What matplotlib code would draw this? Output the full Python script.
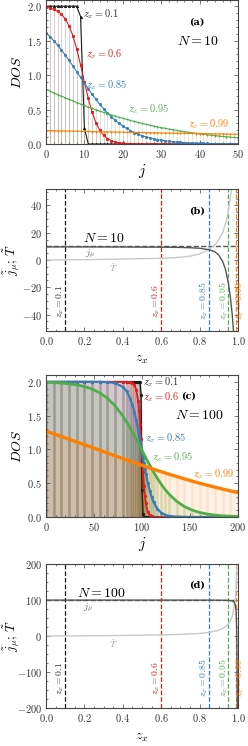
import numpy as np
import matplotlib
matplotlib.use('Agg')
import matplotlib.pyplot as plt
from matplotlib.ticker import MultipleLocator, FormatStrFormatter

plt.rcParams['mathtext.fontset'] = 'cm'
plt.rcParams['font.family'] = 'serif'
plt.rcParams['font.serif'] = ['DejaVu Serif']

zx = [0.1, 0.6, 0.85, 0.95, 0.99]
colors = ['#1a1a1a', '#e41a1c', '#377eb8', '#4daf4a', '#ff7f00']
markers = ['^', 's', 'o', '+', '+']

# ---- panel (a): N = 10, DOS at every j = 0..50
j_a = np.arange(51)
dos_a_01 = [2.0] * 9 + [1.85, 0.23] + [0.0] * 40
dos_a_06 = [1.984, 1.973, 1.956, 1.929, 1.885, 1.818, 1.716, 1.572, 1.380, 1.149,
            0.900, 0.664, 0.463, 0.309, 0.200, 0.126, 0.078, 0.048, 0.030, 0.018,
            0.011, 0.007, 0.004, 0.003, 0.002, 0.001] + [0.0] * 25
dos_a_085 = [1.615, 1.560, 1.500, 1.436, 1.366, 1.291, 1.213, 1.133, 1.050, 0.967,
             0.884, 0.803, 0.724, 0.649, 0.578, 0.512, 0.451, 0.396, 0.345, 0.300,
             0.260, 0.225, 0.194, 0.166, 0.143, 0.122, 0.104, 0.089, 0.076, 0.065,
             0.055, 0.047, 0.040, 0.034, 0.029, 0.024, 0.021, 0.017, 0.015, 0.012,
             0.011, 0.009, 0.008, 0.006, 0.005, 0.005, 0.004, 0.003, 0.003, 0.002,
             0.002]
dos_a_095 = [0.793, 0.768, 0.743, 0.718, 0.694, 0.671, 0.647, 0.625, 0.602, 0.580,
             0.559, 0.538, 0.517, 0.498, 0.478, 0.459, 0.441, 0.423, 0.406, 0.389,
             0.373, 0.357, 0.342, 0.327, 0.313, 0.299, 0.286, 0.274, 0.261, 0.250,
             0.238, 0.228, 0.217, 0.207, 0.198, 0.188, 0.180, 0.171, 0.163, 0.155,
             0.148, 0.141, 0.134, 0.128, 0.122, 0.116, 0.110, 0.105, 0.100, 0.095,
             0.090]
dos_a_099 = [0.195, 0.194, 0.193, 0.191, 0.190, 0.189, 0.188, 0.187, 0.185, 0.184,
             0.183, 0.182, 0.181, 0.180, 0.178, 0.177, 0.176, 0.175, 0.174, 0.173,
             0.172, 0.171, 0.170, 0.169, 0.168, 0.167, 0.166, 0.164, 0.163, 0.162,
             0.161, 0.160, 0.159, 0.158, 0.157, 0.156, 0.155, 0.154, 0.153, 0.152,
             0.152, 0.151, 0.150, 0.149, 0.148, 0.147, 0.146, 0.145, 0.144, 0.143,
             0.142]
dos_a = [dos_a_01, dos_a_06, dos_a_085, dos_a_095, dos_a_099]

# ---- panel (b): N = 10
z_b_mu = [0.0, 0.1, 0.2, 0.3, 0.4, 0.5, 0.6, 0.7, 0.75, 0.8, 0.85, 0.88, 0.9,
          0.92, 0.935, 0.95, 0.96, 0.97, 0.977]
jmu_b = [9.6, 9.6, 9.6, 9.55, 9.5, 9.45, 9.4, 9.2, 9.0, 8.6, 7.5, 6.0, 3.5,
         -1.0, -7.0, -17.0, -27.0, -40.0, -53.0]
z_b_T = [0.0, 0.1, 0.2, 0.3, 0.4, 0.5, 0.6, 0.7, 0.75, 0.8, 0.85, 0.88, 0.9,
         0.92, 0.94, 0.95, 0.96, 0.967]
T_b = [0.0, 0.1, 0.25, 0.45, 0.7, 1.0, 1.2, 2.0, 2.8, 4.5, 8.0, 11.0, 15.0,
       20.0, 29.0, 36.0, 46.0, 53.0]

# ---- panel (c): N = 100
j_c = [0, 8, 16, 24, 32, 40, 48, 56, 64, 72, 80, 84, 88, 90, 92, 94, 96, 97, 98,
       99, 100, 101, 102, 103, 104, 106, 108, 110, 112, 116, 120, 124, 128, 136,
       144, 152, 160, 168, 176, 184, 192, 200]
dos_c_01 = [2.0] * 19 + [1.8, 0.4, 0.05] + [0.0] * 20
dos_c_06 = [2.0] * 11 + [1.999, 1.994, 1.984, 1.956, 1.885, 1.716, 1.572, 1.380,
            1.149, 0.900, 0.664, 0.463, 0.309, 0.200, 0.078, 0.030, 0.011, 0.004] + [0.0] * 13
dos_c_085 = [2.0, 2.0, 2.0, 2.0, 2.0, 2.0, 2.0, 1.999, 1.995, 1.980, 1.925, 1.860,
             1.744, 1.660, 1.555, 1.429, 1.284, 1.206, 1.124, 1.042, 0.958, 0.876,
             0.795, 0.716, 0.642, 0.506, 0.390, 0.296, 0.221, 0.120, 0.064, 0.033,
             0.017, 0.005, 0.001, 0.0, 0.0, 0.0, 0.0, 0.0, 0.0, 0.0]
dos_c_095 = [1.992, 1.988, 1.981, 1.970, 1.954, 1.929, 1.892, 1.836, 1.756, 1.643,
             1.494, 1.406, 1.309, 1.258, 1.206, 1.151, 1.097, 1.069, 1.042, 1.014,
             0.986, 0.958, 0.931, 0.903, 0.876, 0.821, 0.768, 0.716, 0.666, 0.571,
             0.485, 0.408, 0.341, 0.233, 0.156, 0.103, 0.067, 0.044, 0.028, 0.018,
             0.012, 0.008]
dos_c_099 = [1.269, 1.230, 1.191, 1.151, 1.110, 1.070, 1.028, 0.987, 0.946, 0.905,
             0.864, 0.844, 0.824, 0.814, 0.804, 0.794, 0.784, 0.779, 0.775, 0.770,
             0.765, 0.760, 0.755, 0.750, 0.745, 0.736, 0.726, 0.717, 0.707, 0.688,
             0.670, 0.652, 0.634, 0.599, 0.565, 0.532, 0.500, 0.470, 0.441, 0.413,
             0.387, 0.362]
dos_c = [dos_c_01, dos_c_06, dos_c_085, dos_c_095, dos_c_099]

# ---- panel (d): N = 100
z_d_mu = [0.0, 0.2, 0.4, 0.6, 0.8, 0.9, 0.95, 0.97, 0.98, 0.985, 0.99, 0.993,
          0.995, 0.997]
jmu_d = [99.7, 99.7, 99.7, 99.7, 99.6, 99.5, 99.0, 97.5, 94.0, 88.0, 70.0, 20.0,
         -80.0, -210.0]
z_d_T = [0.0, 0.2, 0.4, 0.6, 0.7, 0.8, 0.85, 0.9, 0.93, 0.95, 0.96, 0.97, 0.975,
         0.98, 0.985, 0.99, 0.993, 0.996]
T_d = [0.0, 0.5, 1.5, 3.0, 4.5, 7.0, 10.0, 16.0, 24.0, 34.0, 42.0, 55.0, 66.0,
       85.0, 100.0, 130.0, 170.0, 215.0]

W, H = 248, 746
fig = plt.figure(figsize=(W / 100, H / 100), dpi=100)


def box(top, bottom, left=46, right=238):
    return [left / W, (H - bottom) / H, (right - left) / W, (bottom - top) / H]


def style(ax):
    for s in ax.spines.values():
        s.set_color('#444444')
        s.set_linewidth(0.8)
    ax.tick_params(which='both', direction='in', top=True, right=True,
                   colors='#444444', labelcolor='#333333', width=0.5)
    ax.tick_params(which='major', length=3, labelsize=7.5, pad=3)
    ax.tick_params(which='minor', length=1.5)


lab = dict(fontsize=7.5, ha='left', va='center')

# (a)
ax = fig.add_axes(box(0, 144))
for y, c, m in zip(dos_a, colors, markers):
    ax.vlines(j_a, 0, y, color=c, alpha=0.16, lw=0.5)
for y, c, m in zip(dos_a, colors, markers):
    ax.plot(j_a, y, color=c, lw=0.8, marker=m, ms=1.6, mew=0.6)
ax.set_xlim(0, 50)
ax.set_ylim(0, 2.09)
ax.xaxis.set_major_locator(MultipleLocator(10))
ax.xaxis.set_minor_locator(MultipleLocator(2))
ax.yaxis.set_major_locator(MultipleLocator(0.5))
ax.yaxis.set_minor_locator(MultipleLocator(0.1))
ax.xaxis.set_major_formatter(FormatStrFormatter(r'$%d$'))
ax.yaxis.set_major_formatter(FormatStrFormatter(r'$%.1f$'))
ax.set_ylabel(r'$DOS$', fontsize=10)
ax.set_xlabel(r'$j$', fontsize=11)
ax.yaxis.set_label_coords(-0.115, 0.5)
ax.xaxis.set_label_coords(0.5, -0.125)
ax.text(9.6, 1.88, r'$z_x = 0.1$', color='#333333', **lab)
ax.text(10.4, 1.30, r'$z_x = 0.6$', color=colors[1], **lab)
ax.text(10.4, 0.86, r'$z_x = 0.85$', color=colors[2], **lab)
ax.text(21.3, 0.50, r'$z_x = 0.95$', color=colors[3], **lab)
ax.text(37.0, 0.29, r'$z_x = 0.99$', color=colors[4], **lab)
ax.text(39.3, 1.77, '(a)', fontsize=7, fontweight='bold', ha='center', va='center')
ax.text(39.5, 1.50, r'$N = 10$', fontsize=10, ha='center', va='center')
style(ax)


def zpanel(ax, N, zmu, jmu, zT, T, ylim, ytxt, major, minor, tags):
    ax.axhline(N, color='#555555', ls='--', lw=1.0)
    for z, c in zip(zx, colors):
        ax.axvline(z, color=c, ls='--', lw=0.9)
        dx = 0.02 if z > 0.98 else -0.027
        ax.text(z + dx, ytxt, r'$z_x = %s$' % z, rotation=90, fontsize=7,
                color=c if z > 0.1 else '#333333', ha='center', va='center',
                clip_on=False)
    ax.plot(zT, T, color='#c8c8c8', lw=1.0)
    ax.plot(zmu, jmu, color='#555555', lw=1.0)
    ax.set_xlim(0, 1)
    ax.set_ylim(*ylim)
    ax.xaxis.set_major_locator(MultipleLocator(0.2))
    ax.xaxis.set_minor_locator(MultipleLocator(0.05))
    ax.yaxis.set_major_locator(MultipleLocator(major))
    ax.yaxis.set_minor_locator(MultipleLocator(minor))
    ax.xaxis.set_major_formatter(FormatStrFormatter(r'$%.1f$'))
    ax.yaxis.set_major_formatter(FormatStrFormatter(r'$%d$'))
    ax.set_ylabel(r'$\tilde{j}_\mu;\,\tilde{T}$', fontsize=9.5)
    ax.set_xlabel(r'$z_x$', fontsize=10)
    ax.yaxis.set_label_coords(-0.125, 0.5)
    ax.xaxis.set_label_coords(0.5, -0.15)
    for x, y, s, kw in tags:
        ax.text(x, y, s, ha='center', va='center', **kw)
    style(ax)


# (b)
ax = fig.add_axes(box(189, 331))
zpanel(ax, 10, z_b_mu, jmu_b, z_b_T, T_b, (-52, 52), -30, 20, 5,
       [(0.785, 36, '(b)', dict(fontsize=7, fontweight='bold')),
        (0.30, 16, r'$N = 10$', dict(fontsize=10)),
        (0.23, 4.4, r'$j_\mu$', dict(fontsize=7, color='#666666')),
        (0.35, -5.7, r'$\tilde{T}$', dict(fontsize=7, color='#aaaaaa'))])

# (c)
ax = fig.add_axes(box(375, 517))
for y, c in zip(dos_c, colors):
    ax.fill_between(j_c, 0, y, color=c, alpha=0.10, lw=0)
    ax.vlines(j_c, 0, y, color=c, alpha=0.12, lw=1.8)
widths = [1.0, 1.3, 1.6, 2.0, 2.4]
for y, c, w, k in zip(dos_c, colors, widths, range(5)):
    ax.plot(j_c, y, color=c, lw=w, marker='o' if k < 3 else None, ms=1.3)
ax.set_xlim(0, 200)
ax.set_ylim(0, 2.1)
ax.xaxis.set_major_locator(MultipleLocator(50))
ax.xaxis.set_minor_locator(MultipleLocator(10))
ax.yaxis.set_major_locator(MultipleLocator(0.5))
ax.yaxis.set_minor_locator(MultipleLocator(0.1))
ax.xaxis.set_major_formatter(FormatStrFormatter(r'$%d$'))
ax.yaxis.set_major_formatter(FormatStrFormatter(r'$%.1f$'))
ax.set_ylabel(r'$DOS$', fontsize=10)
ax.set_xlabel(r'$j$', fontsize=11)
ax.yaxis.set_label_coords(-0.115, 0.5)
ax.xaxis.set_label_coords(0.5, -0.13)
ax.text(101, 1.99, r'$z_x = 0.1$', color='#333333', **lab)
ax.text(101, 1.77, r'$z_x = 0.6$', color=colors[1], **lab)
ax.text(103, 1.16, r'$z_x = 0.85$', color=colors[2], **lab)
ax.text(110, 0.89, r'$z_x = 0.95$', color=colors[3], **lab)
ax.text(153, 0.64, r'$z_x = 0.99$', color=colors[4], **lab)
ax.text(148, 1.79, '(c)', fontsize=7, fontweight='bold', ha='center', va='center')
ax.text(160, 1.51, r'$N = 100$', fontsize=10, ha='center', va='center')
style(ax)

# (d)
ax = fig.add_axes(box(564, 708))
zpanel(ax, 100, z_d_mu, jmu_d, z_d_T, T_d, (-200, 200), -116, 100, 25,
       [(0.785, 141, '(d)', dict(fontsize=7, fontweight='bold')),
        (0.29, 120, r'$N = 100$', dict(fontsize=10)),
        (0.22, 79, r'$j_\mu$', dict(fontsize=7, color='#666666')),
        (0.35, -22, r'$\tilde{T}$', dict(fontsize=7, color='#aaaaaa'))])

fig.savefig('out.png', dpi=100)
